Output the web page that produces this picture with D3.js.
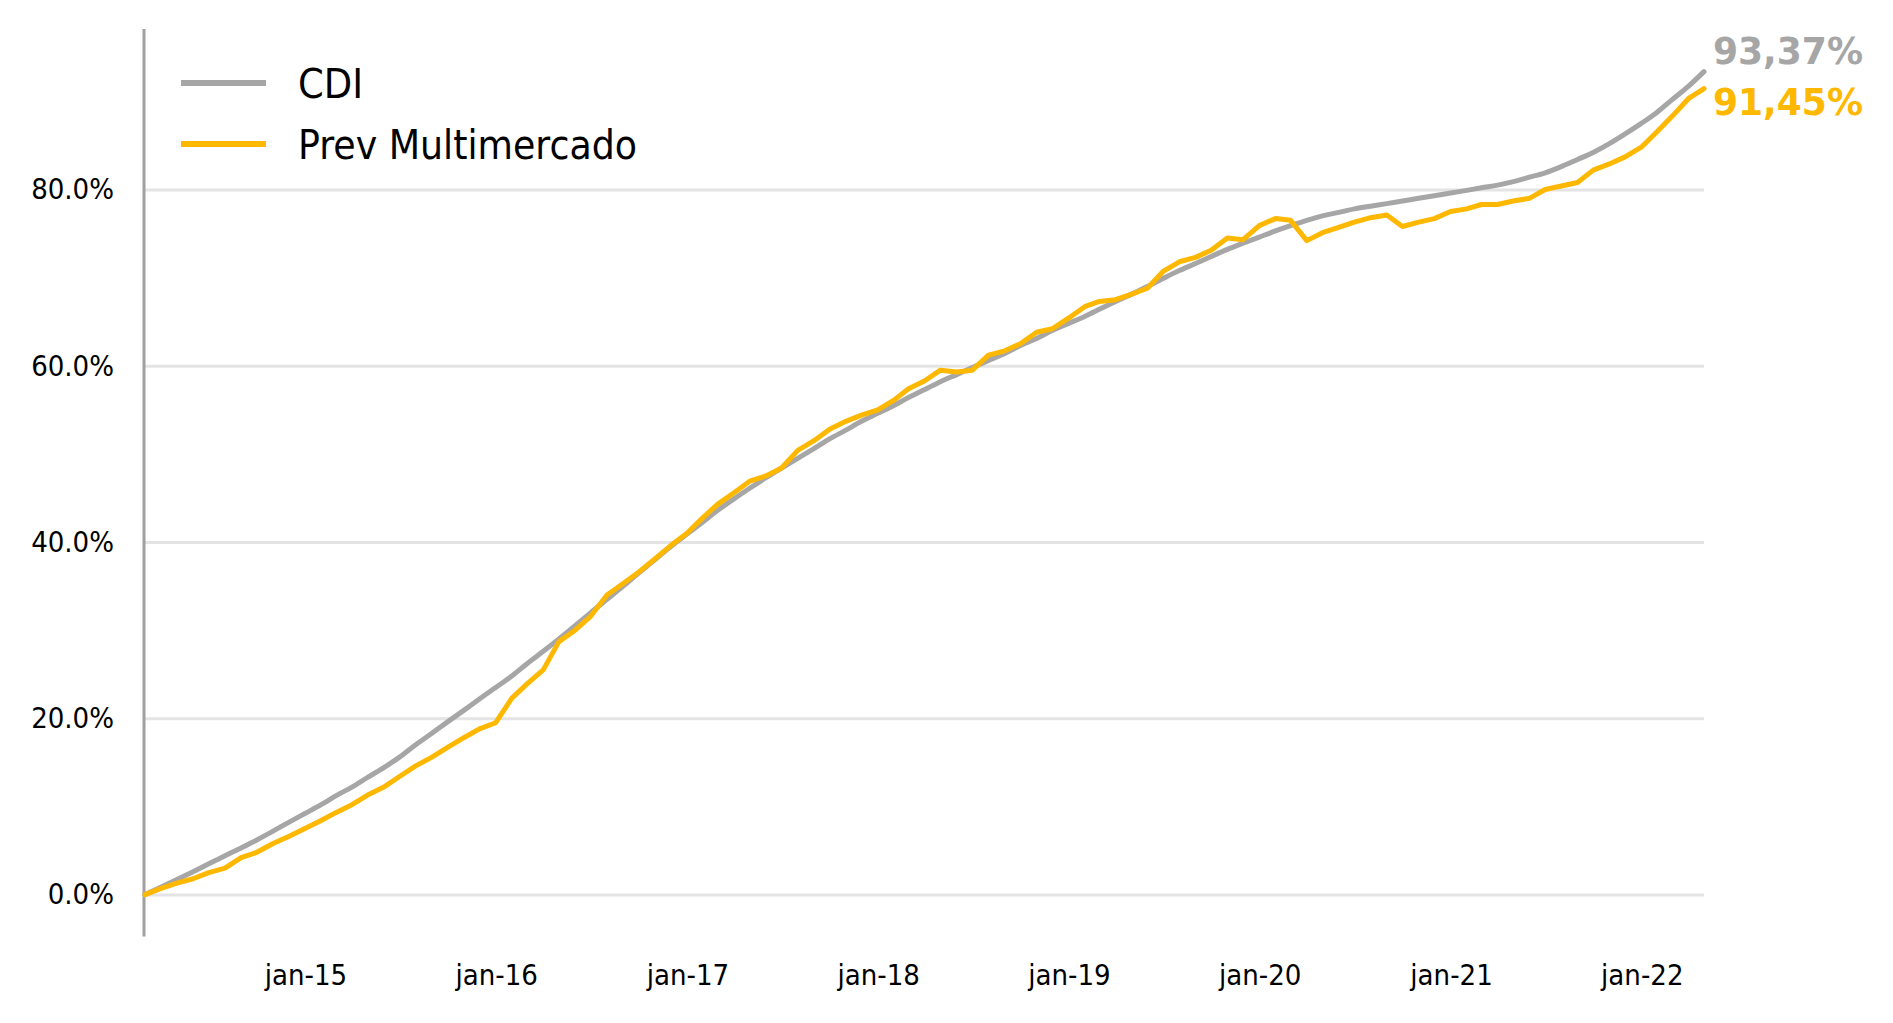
<!DOCTYPE html>
<html><head><meta charset="utf-8">
<script src="https://cdn.jsdelivr.net/npm/d3@7"></script>
<style>
html,body{margin:0;padding:0;background:#fff;overflow:hidden;}
svg{display:block;}
text{font-family:"DejaVu Sans Condensed","DejaVu Sans",sans-serif;}
</style></head><body>
<svg id="chart" width="1893" height="1023"></svg>
<script>
// ---- data ----
const seriesNames = ["CDI", "Prev Multimercado"];
const seriesColors = ["#A6A6A6", "#FFB800"];
// monthly end-of-month points, Feb 2014 .. Apr 2022 (cumulative %)
const startMonth = [2014, 2];   // year, month (1-based) of first point
const cdiValues = [
  0, 0.85, 1.7, 2.6, 3.5, 4.4, 5.3, 6.2, 7.2, 8.2, 9.2,
  10.2, 11.2, 12.2, 13.3, 14.4, 15.6, 17.0, 18.3, 19.6, 20.9,
  22.2, 23.5, 24.8, 26.2, 27.6, 29.0, 30.5, 32.0, 33.5, 35.0,
  36.5, 38.0, 39.5, 40.9, 42.3, 43.6, 44.9, 46.1, 47.3, 48.4,
  49.5, 50.6, 51.7, 52.7, 53.7, 54.6, 55.5, 56.4, 57.3, 58.2,
  59.0, 59.8, 60.6, 61.4, 62.3, 63.1, 64.0, 64.8, 65.6, 66.4,
  67.3, 68.1, 69.0, 69.9, 70.8, 71.6, 72.4, 73.2, 73.9, 74.6,
  75.3, 75.9, 76.5, 77.0, 77.4, 77.8, 78.1, 78.4, 78.7, 79.0,
  79.3, 79.6, 79.9, 80.2, 80.5, 80.9, 81.4, 81.9, 82.6, 83.4,
  84.2, 85.2, 86.3, 87.5, 88.8, 90.2, 91.7, 93.37
];
const prevValues = [
  0, 0.7, 1.3, 1.8, 2.5, 3.0, 4.2, 4.8, 5.8, 6.6, 7.5,
  8.4, 9.3, 10.2, 11.3, 12.2, 13.4, 14.6, 15.6, 16.7, 17.8,
  18.8, 19.5, 22.3, 23.9, 25.5, 28.7, 30.0, 31.6, 34.0, 35.3,
  36.6, 38.1, 39.6, 41.0, 42.8, 44.3, 45.6, 46.9, 47.5, 48.4,
  50.4, 51.5, 52.8, 53.7, 54.4, 55.0, 56.1, 57.4, 58.3, 59.5,
  59.3, 59.5, 61.2, 61.7, 62.5, 63.8, 64.2, 65.4, 66.7, 67.3,
  67.5, 68.1, 68.8, 70.7, 71.8, 72.3, 73.1, 74.5, 74.3, 75.9,
  76.7, 76.5, 74.2, 75.1, 75.7, 76.3, 76.8, 77.1, 75.8, 76.3,
  76.7, 77.5, 77.8, 78.3, 78.3, 78.7, 79.0, 80.0, 80.4, 80.8,
  82.2, 82.9, 83.7, 84.8, 86.6, 88.3, 90.3, 91.45
];
const yTicks = [0, 20, 40, 60, 80];
const xTickYears = [2015, 2016, 2017, 2018, 2019, 2020, 2021, 2022];
const endLabels = ["93,37%", "91,45%"];
const yAxisExtent = [-4.76, 98.2];

// ---- layout ----
const svg = d3.select("#chart");
const plotLeft = 145, plotRight = 1704;
const dates = cdiValues.map((_, i) => new Date(startMonth[0], startMonth[1] + i, 0));

const x = d3.scaleTime()
  .domain([dates[0], dates[dates.length - 1]])
  .range([plotLeft, plotRight]);
const y = d3.scaleLinear().domain([0, 80]).range([894.6, 189.5]);

// gridlines + y labels
const yAxis = d3.axisLeft(y)
  .tickValues(yTicks)
  .tickSizeInner(-(plotRight - plotLeft))
  .tickSizeOuter(0)
  .tickPadding(31)
  .tickFormat(d => d3.format(".1f")(d) + "%");
const gy = svg.append("g").attr("transform", `translate(${plotLeft},0)`).call(yAxis);
gy.select(".domain").remove();
gy.selectAll(".tick line").attr("stroke", "#E4E4E4").attr("stroke-width", 3);
gy.selectAll(".tick text").attr("font-size", 29).attr("fill", "#000")
  .attr("font-family", '"DejaVu Sans Condensed","DejaVu Sans",sans-serif');

// x labels
const xAxis = d3.axisBottom(x)
  .tickValues(xTickYears.map(yr => new Date(yr, 0, 1)))
  .tickSize(0)
  .tickPadding(28)
  .tickFormat(d => "jan-" + d3.timeFormat("%y")(d));
const gx = svg.append("g").attr("transform", `translate(0,${y(yAxisExtent[0])})`).call(xAxis);
gx.select(".domain").remove();
gx.selectAll(".tick text").attr("font-size", 29).attr("fill", "#000")
  .attr("font-family", '"DejaVu Sans Condensed","DejaVu Sans",sans-serif');

// y axis line
svg.append("line")
  .attr("x1", plotLeft - 1).attr("x2", plotLeft - 1)
  .attr("y1", y(yAxisExtent[1])).attr("y2", y(yAxisExtent[0]))
  .attr("stroke", "#A0A0A0").attr("stroke-width", 3);

// series
const lineSmooth = d3.line().x((d, i) => x(dates[i])).y(d => y(d)).curve(d3.curveMonotoneX);
const lineRaw = d3.line().x((d, i) => x(dates[i])).y(d => y(d)).curve(d3.curveLinear);
svg.append("path").datum(cdiValues).attr("d", lineSmooth)
  .attr("fill", "none").attr("stroke", seriesColors[0]).attr("stroke-width", 5)
  .attr("stroke-linejoin", "round").attr("stroke-linecap", "round");
svg.append("path").datum(prevValues).attr("d", lineRaw)
  .attr("fill", "none").attr("stroke", seriesColors[1]).attr("stroke-width", 5)
  .attr("stroke-linejoin", "round").attr("stroke-linecap", "round");

// legend
const legendY = [83, 144];
seriesNames.forEach((name, i) => {
  svg.append("line").attr("x1", 181).attr("x2", 266)
    .attr("y1", legendY[i]).attr("y2", legendY[i])
    .attr("stroke", seriesColors[i]).attr("stroke-width", 6);
  const t = svg.append("text").attr("x", 298).attr("y", legendY[i] + 15)
    .attr("font-size", 41).attr("fill", "#000").text(name);
  if (i === 1) t.attr("textLength", 339).attr("lengthAdjust", "spacingAndGlyphs");
});

// end labels
const endY = [64, 115];
endLabels.forEach((lab, i) => {
  svg.append("text").attr("x", 1713).attr("y", endY[i])
    .attr("font-family", '"DejaVu Sans",sans-serif')
    .attr("font-weight", "bold").attr("font-size", 37)
    .attr("textLength", 150).attr("lengthAdjust", "spacingAndGlyphs")
    .attr("fill", seriesColors[i]).text(lab);
});
</script>
</body></html>
